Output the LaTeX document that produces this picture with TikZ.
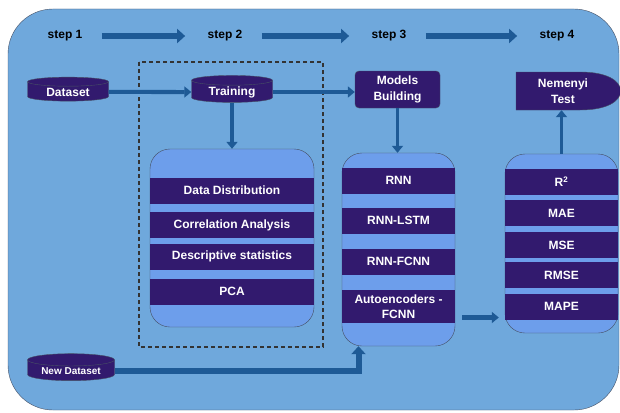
\documentclass[tikz,border=0pt]{standalone}
\usepackage{fontspec}
\setmainfont{Liberation Sans}
\usepackage{tikz}
\usetikzlibrary{shapes.geometric}
\usetikzlibrary{arrows.meta}

\definecolor{bgblue}{RGB}{111,168,220}
\definecolor{boxblue}{RGB}{109,158,235}
\definecolor{barpurple}{RGB}{50,26,110}
\definecolor{arrowblue}{RGB}{30,90,150}
\definecolor{edgegray}{RGB}{70,80,100}

\begin{document}
\begin{tikzpicture}[
    x=1pt, y=-1pt,
    every node/.style={font=\fontsize{12}{15.5}\selectfont\bfseries, text=white, align=center},
    steplabel/.style={text=black},
    bar/.style={fill=barpurple, minimum height=26, inner sep=0pt},
    container/.style={fill=boxblue, draw=edgegray, rounded corners=20, inner sep=0pt},
    db/.style={cylinder, shape border rotate=90, aspect=0.2, draw=edgegray, fill=barpurple, inner sep=1pt},
    flow/.style={draw=arrowblue, line width=4pt, -{Triangle[length=7pt,width=11pt]}},
    steparrow/.style={draw=arrowblue, line width=6pt, -{Triangle[length=8pt,width=14pt]}},
]
\useasboundingbox (0,0) rectangle (620,412);
\draw[fill=bgblue, draw=edgegray, rounded corners=45] (8,9) rectangle (619,410);

% steps
\foreach \n/\x in {1/65,2/225,3/389,4/557} {
    \node[steplabel] (s\n) at (\x,36) {step \n};
}
\foreach \a/\b in {1/2,2/3,3/4} {
    \draw[steparrow, shorten <=16pt, shorten >=19pt] (s\a) -- (s\b);
}

\draw[line width=1.3pt, draw=black!80, dash pattern=on 4pt off 3pt] (139,62) rectangle (323,347);

\node[db, minimum width=81, minimum height=24] (dataset) at (68,92) {Dataset};
\node[db, minimum width=81, minimum height=24] (training) at (232,92) {Training};
\node[db, minimum width=87, minimum height=27, font=\fontsize{10}{12}\selectfont\bfseries] (newdata) at (71,371) {New Dataset};

\node[fill=barpurple, draw=edgegray, rounded corners=4, minimum width=85, minimum height=37, inner sep=1pt] (models) at (397.5,89.5) {Models\\Building};

\fill[barpurple, draw=edgegray] (516,72) -- (580,72) .. controls (606,72) and (620,80) .. (621,91)
    .. controls (620,102) and (606,110) .. (580,110) -- (516,110) -- cycle;
\node[minimum height=38, inner sep=0pt] (nemenyi) at (563,91) {Nemenyi\\Test};

% step 2 box
\node[container, minimum width=164, minimum height=178] (datacont) at (232,238) {};
\foreach \y/\t/\n in {190.5/Data Distribution/1, 225/Correlation Analysis/2, 256.5/Descriptive statistics/3, 291.5/PCA/4} {
    \node[bar, minimum width=164] (d\n) at (232,\y) {\t};
}

% step 3 box
\node[container, minimum width=113, minimum height=193] (modelcont) at (398.5,249.5) {};
\foreach \y/\t/\n in {180.5/RNN/1, 220.5/RNN-LSTM/2, 261.5/RNN-FCNN/3} {
    \node[bar, minimum width=113] (m\n) at (398.5,\y) {\t};
}
\node[bar, minimum width=113, minimum height=33] (m4) at (398.5,306.5) {Autoencoders -\\FCNN};

% step 4 box
\node[container, minimum width=113, minimum height=179] (metriccont) at (561.5,243.5) {};
\foreach \y/\t/\n in {182/R\textsuperscript{2}/1, 213/MAE/2, 245/MSE/3, 275/RMSE/4, 306.5/MAPE/5} {
    \node[bar, minimum width=113] (e\n) at (561.5,\y) {\t};
}

% connectors
\draw[flow] (dataset.east) -- (training.west);
\draw[flow] (training.east) -- (training.east -| models.west);
\draw[flow, line width=3.5pt] (training.south) -- (datacont.north);
\draw[flow, line width=3.5pt] (models.south) -- (models.south |- modelcont.north);
\draw[flow, line width=3.5pt] (metriccont.north) -- (metriccont.north |- nemenyi.south);
\draw[flow, line width=5pt, shorten <=7pt, shorten >=6pt] ([yshift=-11pt]m4.east) -- ([yshift=-11pt]m4.east -| metriccont.west);
\draw[steparrow] (newdata.east) -| ([xshift=-40pt]modelcont.south);
\end{tikzpicture}
\end{document}
